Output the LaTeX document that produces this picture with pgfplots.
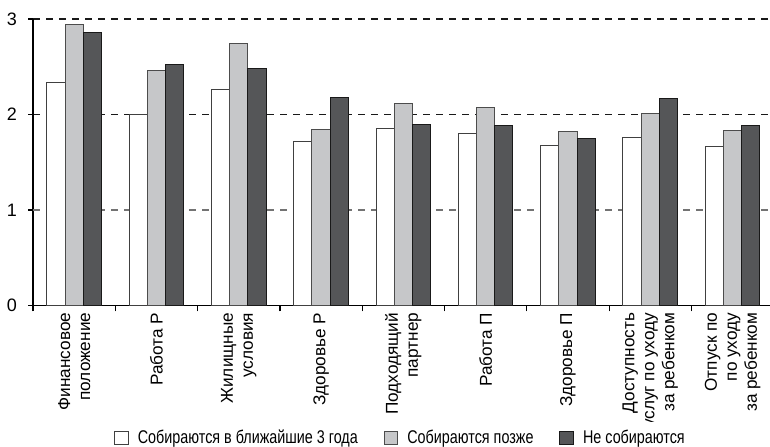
\documentclass[border=0pt]{standalone}
\usepackage{fontspec}
\setmainfont{Liberation Sans}
\newfontfamily\narrowfont[FakeStretch=0.78]{Liberation Sans}
\usepackage{pgfplots}
\pgfplotsset{compat=1.18}
\definecolor{barwhite}{HTML}{FFFFFF}
\definecolor{bargray}{HTML}{C6C7C9}
\definecolor{bardark}{HTML}{555658}
\begin{document}
\begin{tikzpicture}
\begin{axis}[
  scale only axis,
  width=368.5pt, height=143.2pt,
  xmin=-0.5, xmax=8.455,
  ymin=0, ymax=3,
  axis lines=left,
  axis line style={-, black, line width=0.7pt},
  ybar, bar width=9.1pt,
  xtick={0,...,8},
  xticklabels={{Финансовое\\положение},{Работа Р},{Жилищные\\условия},{Здоровье Р},{Подходящий\\партнер},{Работа П},{Здоровье П},{Доступность\\услуг по уходу\\за ребенком},{Отпуск по\\по уходу\\за ребенком}},
  major x tick style={draw=none},
  minor xtick={-0.5,0.5,...,7.5},
  minor x tick style={black, line width=0.6pt},
  tick align=outside,
  minor tick length=3pt,
  major tick length=2.5pt,
  x tick label style={rotate=90, anchor=east, align=right, font=\fontsize{8.6}{10}\selectfont, inner sep=1pt, yshift=0pt},
  ytick={0,2,3},
  extra y ticks={1},
  extra y tick style={grid style={dash pattern=on 3.5pt off 3pt, black!55, line width=0.6pt}},
  ymajorgrids,
  grid style={dash pattern=on 3.5pt off 3pt, black!90, line width=0.6pt},
  y tick style={black, line width=0.6pt},
  /pgf/number format/assume math mode=true,
  y tick label style={font=\fontsize{9}{10}\selectfont, xshift=-2pt},
  legend columns=3,
  legend style={draw=none, at={(0.5,-0.4637)}, anchor=center, font=\narrowfont\fontsize{9.2}{10}\selectfont,
    /tikz/every even column/.append style={column sep=11pt}, column sep=2.5pt},
  legend image code/.code={\draw[#1, bar shift=0pt] (0pt,-3.4pt) rectangle (6.8pt,3.4pt);},
]
\addplot[fill=barwhite, draw=black!75, line width=0.5pt, bar shift=-9.1pt] coordinates {
(0,2.33) (1,2.00) (2,2.26) (3,1.72) (4,1.85) (5,1.80) (6,1.67) (7,1.76) (8,1.66)};
\addplot[fill=bargray, draw=black!70, line width=0.5pt, bar shift=0pt] coordinates {
(0,2.94) (1,2.46) (2,2.74) (3,1.84) (4,2.12) (5,2.07) (6,1.82) (7,2.01) (8,1.83)};
\addplot[fill=bardark, draw=black!90, line width=0.5pt, bar shift=9.1pt] coordinates {
(0,2.86) (1,2.52) (2,2.48) (3,2.18) (4,1.89) (5,1.88) (6,1.75) (7,2.17) (8,1.88)};
\legend{Собираются в ближайшие 3 года, Собираются позже, Не собираются}
\end{axis}
\pgfresetboundingbox
\path ([xshift=-16.5pt,yshift=-70.8pt]current axis.south west) rectangle ([yshift=9.5pt]current axis.north east);
\end{tikzpicture}
\end{document}
